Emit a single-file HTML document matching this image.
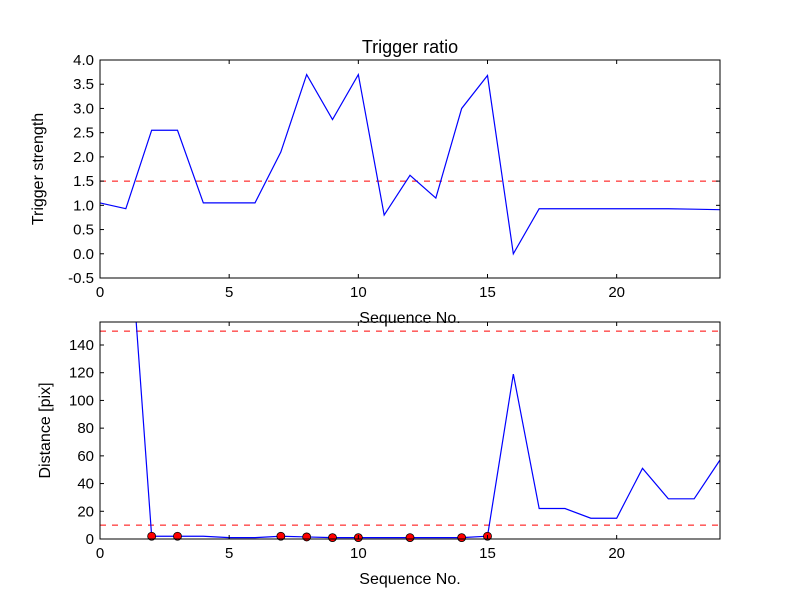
<!DOCTYPE html>
<html><head><meta charset="utf-8"><style>
body{margin:0;background:#fff;}
text{font-family:"Liberation Sans","DejaVu Sans",sans-serif;}
</style></head><body>
<svg id="chart" width="800" height="600" xmlns="http://www.w3.org/2000/svg">
<rect width="800" height="600" fill="#fff"/>
<defs>
<clipPath id="c1"><rect x="100" y="60" width="620" height="218"/></clipPath>
<clipPath id="c2"><rect x="100" y="322" width="620" height="217"/></clipPath>
</defs>
<g id="g1"></g><g id="g2"></g>
</svg>
<script>
const seqTop = [0,1,2,3,4,5,6,7,8,9,10,11,12,13,14,15,16,17,18,19,20,21,22,23,24];
const strength = [1.05,0.93,2.55,2.55,1.05,1.05,1.05,2.1,3.7,2.77,3.7,0.8,1.62,1.15,3.0,3.68,0.0,0.93,0.93,0.93,0.93,0.93,0.93,0.92,0.91];
const strengthThreshold = 1.5;
const seqBottom = [1,2,3,4,5,6,7,8,9,10,11,12,13,14,15,16,17,18,19,20,21,22,23,24];
const distance = [260,2,2,2,1,1,2,1.5,1,1,1,1,1,1,2,119,22,22,15,15,51,29,29,57];
const markSeq = [2,3,7,8,9,10,12,14,15];
const distThresholds = [150,10];
const xTicks = [0,5,10,15,20];
const yTicksTop = [-0.5,0.0,0.5,1.0,1.5,2.0,2.5,3.0,3.5,4.0];
const yTicksBottom = [0,20,40,60,80,100,120,140];

const NS='http://www.w3.org/2000/svg';
function mk(parent,tag,attrs,txt){const e=document.createElementNS(NS,tag);for(const k in attrs)e.setAttribute(k,attrs[k]);if(txt!==undefined)e.textContent=txt;parent.appendChild(e);return e;}
const X=v=>100+v*(620/24);
const Y1=v=>60+(4.0-v)*(218/4.5);
const Y2=v=>539-v*(217/156.6);

function axes(g,top,bottom,Y,yTicks,fmt,clip,ylabel){
  for(const t of xTicks){
    const x=X(t);
    const tk=mk(g,'line',{x1:x,x2:x,y1:bottom,y2:bottom-4,stroke:'#000'});
    
    mk(g,'line',{x1:x,x2:x,y1:top,y2:top+4,stroke:'#000'});
    const l=mk(g,'text',{x:x,y:bottom+19,'text-anchor':'middle','font-size':15},String(t));
    
  }
  for(const t of yTicks){
    const y=Y(t);
    mk(g,'line',{x1:100,x2:104,y1:y,y2:y,stroke:'#000'});
    mk(g,'line',{x1:720,x2:716,y1:y,y2:y,stroke:'#000'});
    const l=mk(g,'text',{x:94,y:y+5,'text-anchor':'end','font-size':15},fmt(t));
    
  }
  const xl=mk(g,'text',{x:410,y:bottom+45,'text-anchor':'middle','font-size':16},'Sequence No.');
  
  const cy=(top+bottom)/2;
  const yl=mk(g,'text',{x:0,y:0,'text-anchor':'middle','font-size':16,transform:`translate(${ylabel[1]},${cy}) rotate(-90)`},ylabel[0]);
  
}

const g1=document.getElementById('g1');
const p1=mk(g1,'g',{'clip-path':'url(#c1)'});
const th1=mk(p1,'line',{x1:100,x2:720,y1:Y1(strengthThreshold),y2:Y1(strengthThreshold),stroke:'red','stroke-dasharray':'6,6'});

const l1=mk(p1,'polyline',{points:seqTop.map((s,i)=>X(s)+','+Y1(strength[i])).join(' '),fill:'none',stroke:'blue','stroke-width':1.2});

const f1=mk(g1,'rect',{x:100,y:60,width:620,height:218,fill:'none',stroke:'#000'});

axes(g1,60,278,Y1,yTicksTop,t=>t.toFixed(1),'c1',['Trigger strength',43]);
const tt=mk(g1,'text',{x:410,y:53,'text-anchor':'middle','font-size':18},'Trigger ratio');


const g2=document.getElementById('g2');
const p2=mk(g2,'g',{'clip-path':'url(#c2)'});
for(const t of distThresholds){
  const e=mk(p2,'line',{x1:100,x2:720,y1:Y2(t),y2:Y2(t),stroke:'red','stroke-dasharray':'6,6'});
  
}
const l2=mk(p2,'polyline',{points:seqBottom.map((s,i)=>X(s)+','+Y2(distance[i])).join(' '),fill:'none',stroke:'blue','stroke-width':1.2});

for(const s of markSeq){
  const i=seqBottom.indexOf(s);
  const c=mk(g2,'circle',{cx:X(s),cy:Y2(distance[i]),r:4,fill:'red',stroke:'#000','stroke-width':0.8});
  
}
const f2=mk(g2,'rect',{x:100,y:322,width:620,height:217,fill:'none',stroke:'#000'});

axes(g2,322,539,Y2,yTicksBottom,t=>String(t),'c2',['Distance [pix]',50]);
</script>
</body></html>
